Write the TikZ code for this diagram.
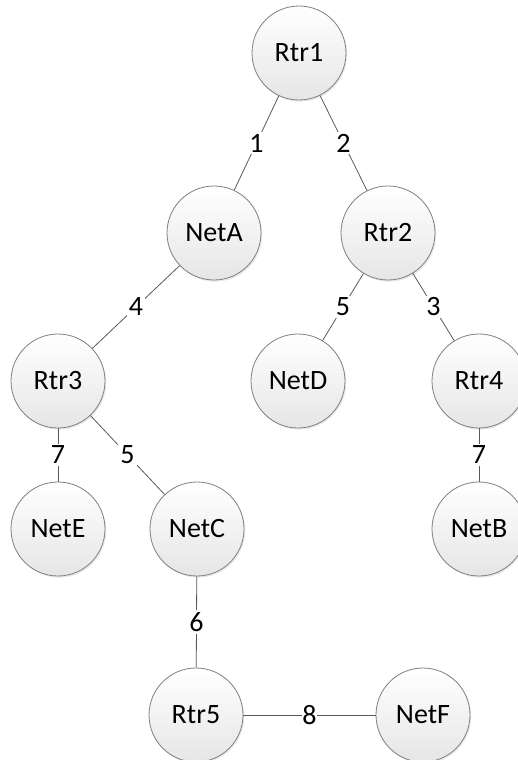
\documentclass[tikz,border=0pt]{standalone}
\usepackage{fontspec}
\setmainfont{Carlito}
\usetikzlibrary{shadows}
\begin{document}
\begin{tikzpicture}[x=1pt,y=-1pt,
  netnode/.style={circle, minimum size=94pt, inner sep=0pt, draw=black!50,
    line width=0.8pt, top color=white, bottom color=black!10,
    drop shadow={opacity=0.18, shadow xshift=1.2pt, shadow yshift=-1.6pt},
    font=\fontsize{28}{32}\selectfont},
  link/.style={draw=black!65, line width=0.8pt},
  cost/.style={fill=white, inner sep=2pt, font=\fontsize{28}{32}\selectfont}]
  \useasboundingbox (0,0) rectangle (518,760);
  \clip (0,0) rectangle (518,760);
  % routers and networks
  \node[netnode] (rtr1) at (299,53)  {Rtr1};
  \node[netnode] (neta) at (214,233) {NetA};
  \node[netnode] (rtr2) at (388,233) {Rtr2};
  \node[netnode] (rtr3) at (58,381)  {Rtr3};
  \node[netnode] (netd) at (298,381) {NetD};
  \node[netnode] (rtr4) at (479,381) {Rtr4};
  \node[netnode] (nete) at (58,529)  {NetE};
  \node[netnode] (netc) at (197,529) {NetC};
  \node[netnode] (netb) at (479,529) {NetB};
  \node[netnode] (rtr5) at (196,715) {Rtr5};
  \node[netnode] (netf) at (423,715) {NetF};
  % links with their costs
  \path[link] (rtr1) -- node[cost] {1} (neta);
  \path[link] (rtr1) -- node[cost] {2} (rtr2);
  \path[link] (neta) -- node[cost] {4} (rtr3);
  \path[link] (rtr2) -- node[cost] {5} (netd);
  \path[link] (rtr2) -- node[cost] {3} (rtr4);
  \path[link] (rtr3) -- node[cost] {7} (nete);
  \path[link] (rtr3) -- node[cost] {5} (netc);
  \path[link] (rtr4) -- node[cost] {7} (netb);
  \path[link] (netc) -- node[cost] {6} (rtr5);
  \path[link] (rtr5) -- node[cost, inner sep=0.5pt] {8} (netf);
\end{tikzpicture}
\end{document}
